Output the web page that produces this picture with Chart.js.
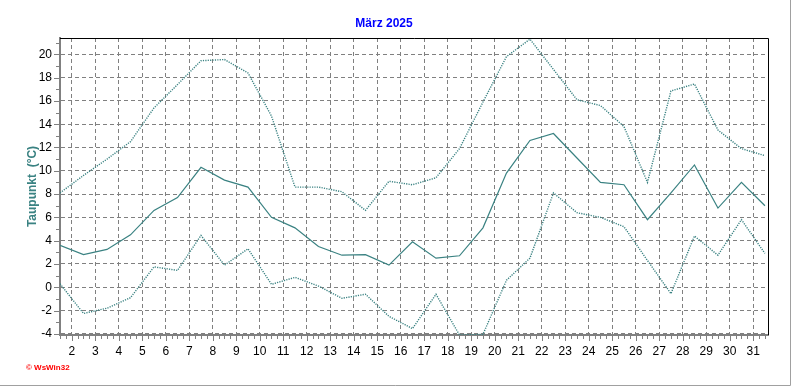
<!DOCTYPE html>
<html lang="de">
<head>
    <meta charset="UTF-8">
    <title>Taupunkt März 2025</title>
    <script src="https://cdn.jsdelivr.net/npm/chart.js"></script>
    <style>
        body { margin: 0; background: #fff; }
        #wrap { width: 792px; height: 387px; }
    </style>
</head>
<body>

    <div id="wrap"><canvas id="dewChart" width="792" height="387"></canvas></div>

    <script>
        // Tage im März, Werte gelten für die Tagesmitte
        const days = [1,2,3,4,5,6,7,8,9,10,11,12,13,14,15,16,17,18,19,20,21,22,23,24,25,26,27,28,29,30,31];

        const dewMax  = [8.1, 9.6, 11.0, 12.5, 15.4, 17.4, 19.45, 19.55, 18.4, 14.7, 8.6, 8.6, 8.2, 6.6, 9.1, 8.8,
                         9.4, 11.9, 15.9, 19.8, 21.3, 18.7, 16.1, 15.6, 13.8, 9.0, 16.85, 17.45, 13.5, 11.9, 11.3];
        const dewMean = [3.6, 2.8, 3.25, 4.5, 6.6, 7.7, 10.3, 9.2, 8.6, 6.0, 5.1, 3.5, 2.75, 2.8, 1.9, 3.9,
                         2.5, 2.7, 5.1, 9.8, 12.6, 13.2, 11.1, 9.0, 8.8, 5.8, 8.1, 10.5, 6.8, 9.0, 7.0];
        const dewMin  = [0.3, -2.25, -1.8, -0.9, 1.75, 1.45, 4.45, 1.9, 3.3, 0.25, 0.85, 0.1, -0.95, -0.6, -2.5, -3.55,
                         -0.6, -4.1, -4.05, 0.6, 2.5, 8.1, 6.4, 6.0, 5.2, 2.3, -0.55, 4.4, 2.75, 5.8, 2.9];

        const xTickDays = [2,3,4,5,6,7,8,9,10,11,12,13,14,15,16,17,18,19,20,21,22,23,24,25,26,27,28,29,30,31];
        const yTickVals = [-4,-2,0,2,4,6,8,10,12,14,16,18,20];

        const lineColor = "#3a8282";
        const gridColor = "#808080";
        const fontFam = "'Liberation Sans', Arial, sans-serif";

        function toPoints(values) {
            return days.map((d, i) => ({ x: d + 0.5, y: values[i] }));
        }

        // Rahmen, Nebenstriche und Logo
        const framePlugin = {
            id: "frame",
            afterDraw(chart) {
                const ctx = chart.ctx;
                const area = chart.chartArea;
                const xs = chart.scales.x;
                const ys = chart.scales.y;
                ctx.save();

                // schwarzer Rahmen oben und rechts
                ctx.strokeStyle = "#000";
                ctx.lineWidth = 1;
                ctx.beginPath();
                ctx.moveTo(area.left, Math.floor(area.top) + 0.5);
                ctx.lineTo(Math.floor(area.right) + 0.5, Math.floor(area.top) + 0.5);
                ctx.lineTo(Math.floor(area.right) + 0.5, area.bottom);
                ctx.stroke();

                // Striche an der x-Achse (alle 6 Stunden)
                ctx.strokeStyle = gridColor;
                ctx.beginPath();
                for (let t = 1.5; t <= xs.max; t += 0.25) {
                    const px = Math.round(xs.getPixelForValue(t)) + 0.5;
                    const len = Number.isInteger(t) ? 5 : 3;
                    ctx.moveTo(px, area.bottom + 1);
                    ctx.lineTo(px, area.bottom + 1 + len);
                }
                // Striche an der y-Achse
                for (let v = -4; v <= 21; v += 1) {
                    const py = Math.round(ys.getPixelForValue(v)) + 0.5;
                    const len = (v % 2 === 0) ? 5 : 3;
                    ctx.moveTo(area.left - 1, py);
                    ctx.lineTo(area.left - 1 - len, py);
                }
                ctx.stroke();

                // grauer Außenrand
                ctx.strokeStyle = "#a0a0a0";
                ctx.beginPath();
                ctx.moveTo(790.5, 0);
                ctx.lineTo(790.5, 385.5);
                ctx.lineTo(0, 385.5);
                ctx.stroke();

                // Logo
                ctx.fillStyle = "#ff0000";
                ctx.font = "bold 8px " + fontFam;
                ctx.textBaseline = "middle";
                ctx.fillText("\u00a9 WsWin32", 26, 368);
                ctx.restore();
            }
        };

        new Chart(document.getElementById("dewChart"), {
            type: "line",
            data: {
                datasets: [
                    {
                        label: "Max",
                        data: toPoints(dewMax),
                        borderColor: lineColor,
                        borderWidth: 1.4,
                        borderDash: [1.2, 1.2],
                        pointRadius: 0,
                        tension: 0
                    },
                    {
                        label: "Mittel",
                        data: toPoints(dewMean),
                        borderColor: lineColor,
                        borderWidth: 1.2,
                        pointRadius: 0,
                        tension: 0
                    },
                    {
                        label: "Min",
                        data: toPoints(dewMin),
                        borderColor: lineColor,
                        borderWidth: 1.4,
                        borderDash: [1.2, 1.2],
                        pointRadius: 0,
                        tension: 0
                    }
                ]
            },
            options: {
                responsive: false,
                animation: false,
                layout: { padding: { top: 0, right: 24, bottom: 0, left: 0 } },
                plugins: {
                    legend: { display: false },
                    tooltip: { enabled: false },
                    title: {
                        display: true,
                        text: "März 2025",
                        color: "#0000ff",
                        font: { family: fontFam, size: 12, weight: "bold" },
                        padding: { top: 16, bottom: 7.6 }
                    }
                },
                scales: {
                    x: {
                        type: "linear",
                        min: 1.5,
                        max: 31.63,
                        afterBuildTicks: s => { s.ticks = xTickDays.map(v => ({ value: v })); },
                        afterFit: s => { s.height = 52; },
                        ticks: {
                            color: "#000",
                            font: { family: fontFam, size: 12 },
                            padding: 9,
                            maxRotation: 0,
                            autoSkip: false
                        },
                        grid: { color: gridColor, drawTicks: false },
                        border: { color: gridColor, width: 2, dash: [4, 3] }
                    },
                    y: {
                        min: -4.1,
                        max: 21.4,
                        afterBuildTicks: s => { s.ticks = yTickVals.map(v => ({ value: v })); },
                        afterFit: s => { s.width = 60; },
                        ticks: {
                            color: "#000",
                            font: { family: fontFam, size: 12 },
                            padding: 8
                        },
                        grid: { color: gridColor, drawTicks: false },
                        border: { color: gridColor, width: 2, dash: [4, 3] },
                        title: {
                            display: true,
                            text: "Taupunkt  (°C)",
                            color: lineColor,
                            font: { family: fontFam, size: 12, weight: "bold" },
                            padding: { top: 25, bottom: 0 }
                        }
                    }
                }
            },
            plugins: [framePlugin]
        });
    </script>

</body>
</html>
